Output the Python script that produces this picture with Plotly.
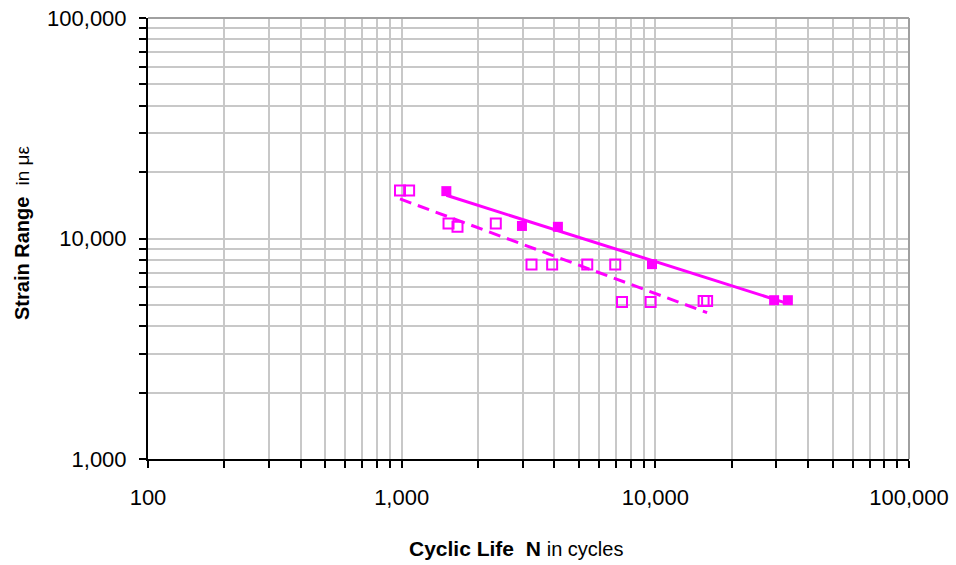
import numpy as np
import plotly.graph_objects as go

# Fatigue test results: cyclic life vs. applied strain range
life_filled = [1500, 2980, 4130, 9700, 29400, 33300]
strain_filled = [16400, 11400, 11300, 7650, 5250, 5250]

life_open = [985, 1070, 1530, 1660, 2350, 3250, 3920, 5390, 6950, 7390, 9580, 15500, 16000]
strain_open = [16500, 16500, 11700, 11300, 11700, 7620, 7620, 7620, 7620, 5150, 5150, 5200, 5200]

x_tickvals = [100, 1000, 10000, 100000]
x_ticktext = ["100", "1,000", "10,000", "100,000"]
y_tickvals = [1000, 10000, 100000]
y_ticktext = ["1,000", "10,000", "100,000"]

MAGENTA = "#FF00FF"
GRID = "#c8c8c8"


def power_fit(xs, ys):
    """Least-squares power-law trend y = a * x^b, evaluated over the data span."""
    lx, ly = np.log10(xs), np.log10(ys)
    b, a = np.polyfit(lx, ly, 1)
    xf = np.logspace(lx.min(), lx.max(), 60)
    return xf, 10 ** (a + b * np.log10(xf))


fx_f, fy_f = power_fit(np.array(life_filled, float), np.array(strain_filled, float))
fx_o, fy_o = power_fit(np.array(life_open, float), np.array(strain_open, float))

fig = go.Figure()
fig.add_trace(go.Scatter(x=fx_f, y=fy_f, mode="lines",
                         line=dict(color=MAGENTA, width=3), hoverinfo="skip"))
fig.add_trace(go.Scatter(x=fx_o, y=fy_o, mode="lines",
                         line=dict(color=MAGENTA, width=3, dash="12px,7px"), hoverinfo="skip"))
fig.add_trace(go.Scatter(x=life_filled, y=strain_filled, mode="markers",
                         marker=dict(symbol="square", size=10, color=MAGENTA)))
fig.add_trace(go.Scatter(x=life_open, y=strain_open, mode="markers",
                         marker=dict(symbol="square-open", size=10, color=MAGENTA,
                                     line=dict(width=2, color=MAGENTA))))

tick_font = dict(family="Liberation Sans, Arial", size=22, color="#000000")

common = dict(
    type="log", tickfont=tick_font, automargin=False,
    ticks="outside", ticklen=7, tickwidth=2, tickcolor="#000000",
    showgrid=True, gridcolor=GRID, gridwidth=2,
    minor=dict(dtick="D1", showgrid=True, gridcolor=GRID, gridwidth=2,
               ticks="outside", ticklen=7, tickwidth=2, tickcolor="#000000"),
    showline=True, linecolor="#000000", linewidth=2, zeroline=False,
)
fig.update_xaxes(range=[2, 5], tickvals=x_tickvals, ticktext=x_ticktext,
                 ticklabelstandoff=11, **common)
fig.update_yaxes(range=[3, 5], tickvals=y_tickvals, ticktext=y_ticktext,
                 ticklabelstandoff=8, **common)

# plot-area frame on the top and right edges
fig.add_shape(type="line", xref="paper", yref="paper", x0=0, x1=1, y0=1, y1=1,
              line=dict(color="#a0a0a0", width=2), layer="above")
fig.add_shape(type="line", xref="paper", yref="paper", x0=1, x1=1, y0=0, y1=1,
              line=dict(color="#a0a0a0", width=2), layer="above")

fig.add_annotation(
    xref="paper", yref="paper", x=(22 - 148) / 761, y=(459 - 233) / 441,
    text="<b>Strain Range</b>  <span style='font-size:19px'>in με</span>",
    textangle=-90, showarrow=False, xanchor="center", yanchor="middle",
    font=dict(family="Liberation Sans, Arial", size=20, color="#000000"),
)
fig.add_annotation(
    xref="paper", yref="paper", x=(516 - 148) / 761, y=-(548 - 459) / 441,
    text="<b>Cyclic Life  N</b> <span style='font-size:20px'>in cycles</span>",
    showarrow=False, xanchor="center", yanchor="middle",
    font=dict(family="Liberation Sans, Arial", size=21, color="#000000"),
)

fig.update_layout(
    width=956, height=565,
    margin=dict(l=148, r=47, t=18, b=106),
    paper_bgcolor="white", plot_bgcolor="white",
    showlegend=False,
)

fig.write_html("out.html")
